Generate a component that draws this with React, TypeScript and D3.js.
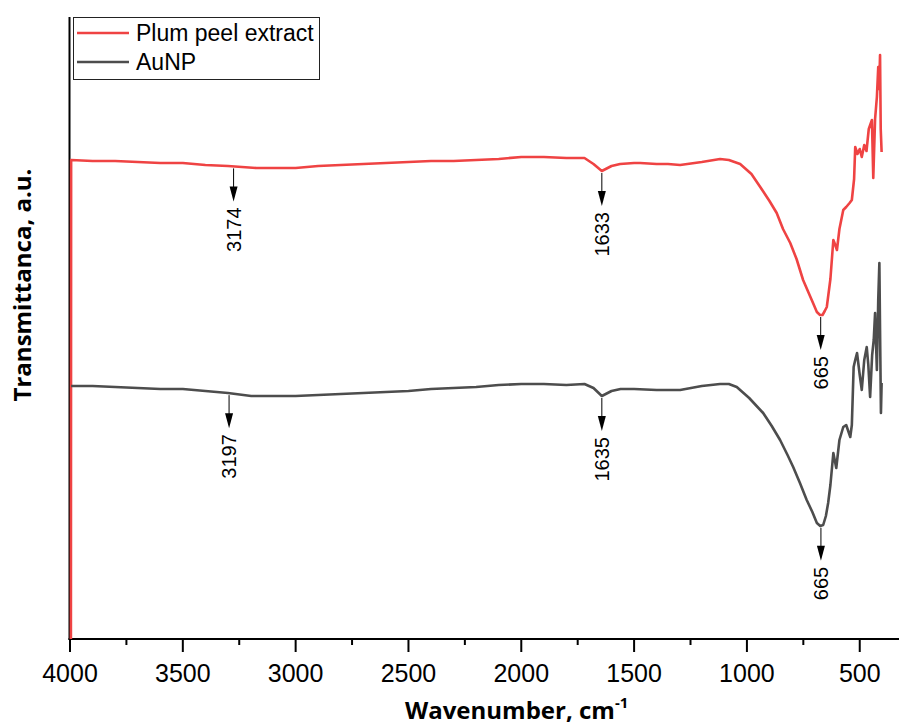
import React from 'react';
import * as d3 from 'd3';

// wavenumber (cm-1), transmittance (a.u.)
const plumPeel: [number, number][] = [
  [3996, 0], [3995, 47.9], [3900, 47.8], [3800, 47.8], [3700, 47.7], [3600, 47.6],
  [3500, 47.6], [3400, 47.4], [3300, 47.3], [3174, 47.1], [3100, 47.1], [3000, 47.1],
  [2900, 47.3], [2800, 47.4], [2700, 47.5], [2600, 47.6], [2500, 47.7], [2400, 47.8],
  [2300, 47.8], [2200, 47.9], [2100, 48.0], [2000, 48.2], [1900, 48.2], [1800, 48.1],
  [1720, 48.1], [1680, 47.5], [1643, 46.8], [1600, 47.3], [1562, 47.5], [1500, 47.6],
  [1473, 47.6], [1400, 47.5], [1350, 47.5], [1296, 47.4], [1200, 47.7], [1119, 48.0],
  [1080, 47.9], [1030, 47.5], [980, 46.5], [941, 45.2], [900, 43.8], [868, 42.6],
  [840, 41.0], [808, 39.6], [780, 38.0], [751, 35.9], [730, 34.8], [707, 33.6],
  [690, 32.7], [676, 32.4], [665, 32.4], [655, 32.8], [646, 33.2], [630, 36.0],
  [617, 39.9], [610, 39.5], [601, 38.9], [590, 41.0], [573, 42.9], [560, 43.2],
  [545, 43.6], [535, 43.9], [525, 46.0], [520, 49.2], [510, 48.5], [500, 49.0],
  [491, 48.2], [480, 49.4], [470, 48.8], [460, 51.0], [446, 51.9], [440, 46.1],
  [432, 52.0], [424, 54.2], [418, 57.2], [414, 55.0], [410, 58.4], [407, 51.0],
  [403, 48.7],
];

const auNP: [number, number][] = [
  [3995, 25.3], [3900, 25.3], [3800, 25.2], [3700, 25.1], [3600, 25.0], [3500, 25.0],
  [3400, 24.8], [3300, 24.6], [3197, 24.3], [3100, 24.3], [3000, 24.3], [2900, 24.4],
  [2800, 24.5], [2700, 24.6], [2600, 24.7], [2500, 24.8], [2400, 25.0], [2300, 25.1],
  [2200, 25.2], [2100, 25.4], [2000, 25.5], [1900, 25.5], [1800, 25.4], [1720, 25.5],
  [1680, 25.1], [1643, 24.3], [1600, 24.8], [1560, 25.0], [1500, 25.0], [1400, 24.9],
  [1296, 24.9], [1200, 25.3], [1119, 25.5], [1080, 25.5], [1045, 25.2], [990, 24.1],
  [928, 22.6], [890, 21.3], [853, 19.9], [820, 18.4], [795, 17.2], [765, 15.6],
  [735, 13.9], [710, 12.7], [690, 11.6], [675, 11.3], [662, 11.4], [650, 12.3],
  [640, 13.6], [630, 15.4], [617, 18.6], [604, 17.1], [590, 19.9], [573, 21.2],
  [560, 21.4], [542, 20.2], [535, 21.4], [527, 27.2], [520, 27.9], [512, 28.6],
  [500, 26.4], [491, 24.9], [480, 27.9], [469, 29.2], [462, 27.4], [454, 24.2],
  [445, 28.4], [438, 29.9], [432, 32.6], [424, 26.9], [418, 33.9], [413, 37.6],
  [410, 30.9], [406, 22.6], [403, 25.6],
];

const seriesNames = ['Plum peel extract', 'AuNP'];
const seriesColors = ['#ef4343', '#4d4d4d'];

// peak markers: series index, wavenumber where the arrow sits, label
const peaks: { s: number; at: number; label: string }[] = [
  { s: 0, at: 3275, label: '3174' },
  { s: 0, at: 1643, label: '1633' },
  { s: 0, at: 673, label: '665' },
  { s: 1, at: 3295, label: '3197' },
  { s: 1, at: 1643, label: '1635' },
  { s: 1, at: 672, label: '665' },
];

const majorTicks = [4000, 3500, 3000, 2500, 2000, 1500, 1000, 500];
const minorTicks = [3750, 3250, 2750, 2250, 1750, 1250, 750];

const W = 899;
const H = 727;

export default function App() {
  const x = d3.scaleLinear().domain([4000, 326]).range([70, 899]);
  const y = d3.scaleLinear().domain([0, 62.2]).range([639, 17]);
  const line = d3
    .line<[number, number]>()
    .x((d) => x(d[0]))
    .y((d) => y(d[1]));
  const all = [plumPeel, auNP];

  const valueAt = (data: [number, number][], w: number) => {
    for (let i = 1; i < data.length; i++) {
      const [w0, v0] = data[i - 1];
      const [w1, v1] = data[i];
      if (w <= w0 && w >= w1) return v0 + ((w - w0) / (w1 - w0)) * (v1 - v0);
    }
    return data[data.length - 1][1];
  };

  const num = { fontFamily: '"Liberation Sans", Arial, sans-serif' };
  const bold = { fontFamily: '"Open Sans", sans-serif', fontWeight: 700 };

  return (
    <svg width={W} height={H} style={{ position: 'absolute', left: 0, top: 0, background: '#fff' }}>
      {/* axes */}
      <line x1={69.5} x2={69.5} y1={17} y2={640} stroke="#000" strokeWidth={2} />
      <line x1={68.5} x2={W} y1={639} y2={639} stroke="#000" strokeWidth={2} />
      {majorTicks.map((t) => (
        <g key={t}>
          <line x1={x(t)} x2={x(t)} y1={639} y2={652} stroke="#000" strokeWidth={2} />
          <text x={x(t)} y={682} textAnchor="middle" fontSize={25} style={num}>
            {t}
          </text>
        </g>
      ))}
      {minorTicks.map((t) => (
        <line key={t} x1={x(t)} x2={x(t)} y1={639} y2={645} stroke="#000" strokeWidth={2} />
      ))}

      {/* spectra */}
      {all.map((d, i) => (
        <path key={i} d={line(d) || ''} fill="none" stroke={seriesColors[i]} strokeWidth={2.6} strokeLinejoin="round" />
      ))}

      {/* peak arrows */}
      {peaks.map((p, i) => {
        const px = x(p.at);
        const top = y(valueAt(all[p.s], p.at)) + 2;
        const tip = top + 33;
        return (
          <g key={i}>
            <line x1={px} x2={px} y1={top} y2={tip - 14} stroke="#000" strokeWidth={1} />
            <polygon points={`${px - 4},${tip - 15} ${px + 4},${tip - 15} ${px},${tip}`} fill="#000" />
            <text
              transform={`translate(${px},${tip + 6}) rotate(-90)`}
              dy="0.35em"
              textAnchor="end"
              fontSize={20}
              style={num}
            >
              {p.label}
            </text>
          </g>
        );
      })}

      {/* legend */}
      <rect x={73.5} y={17.5} width={246} height={62} fill="#fff" stroke="#222" strokeWidth={1} />
      {seriesNames.map((n, i) => (
        <g key={n}>
          <line x1={77} x2={129} y1={33 + i * 29} y2={33 + i * 29} stroke={seriesColors[i]} strokeWidth={2.5} />
          <text x={136} y={41 + i * 29} fontSize={23} style={num}>
            {n}
          </text>
        </g>
      ))}

      {/* axis titles */}
      <text x={405} y={719} fontSize={24} style={bold}>
        Wavenumber, cm
        <tspan fontSize={15} dy={-11}>
          -1
        </tspan>
      </text>
      <text transform="translate(31,285) rotate(-90)" textAnchor="middle" fontSize={24} style={bold}>
        Transmittanca, a.u.
      </text>
    </svg>
  );
}
